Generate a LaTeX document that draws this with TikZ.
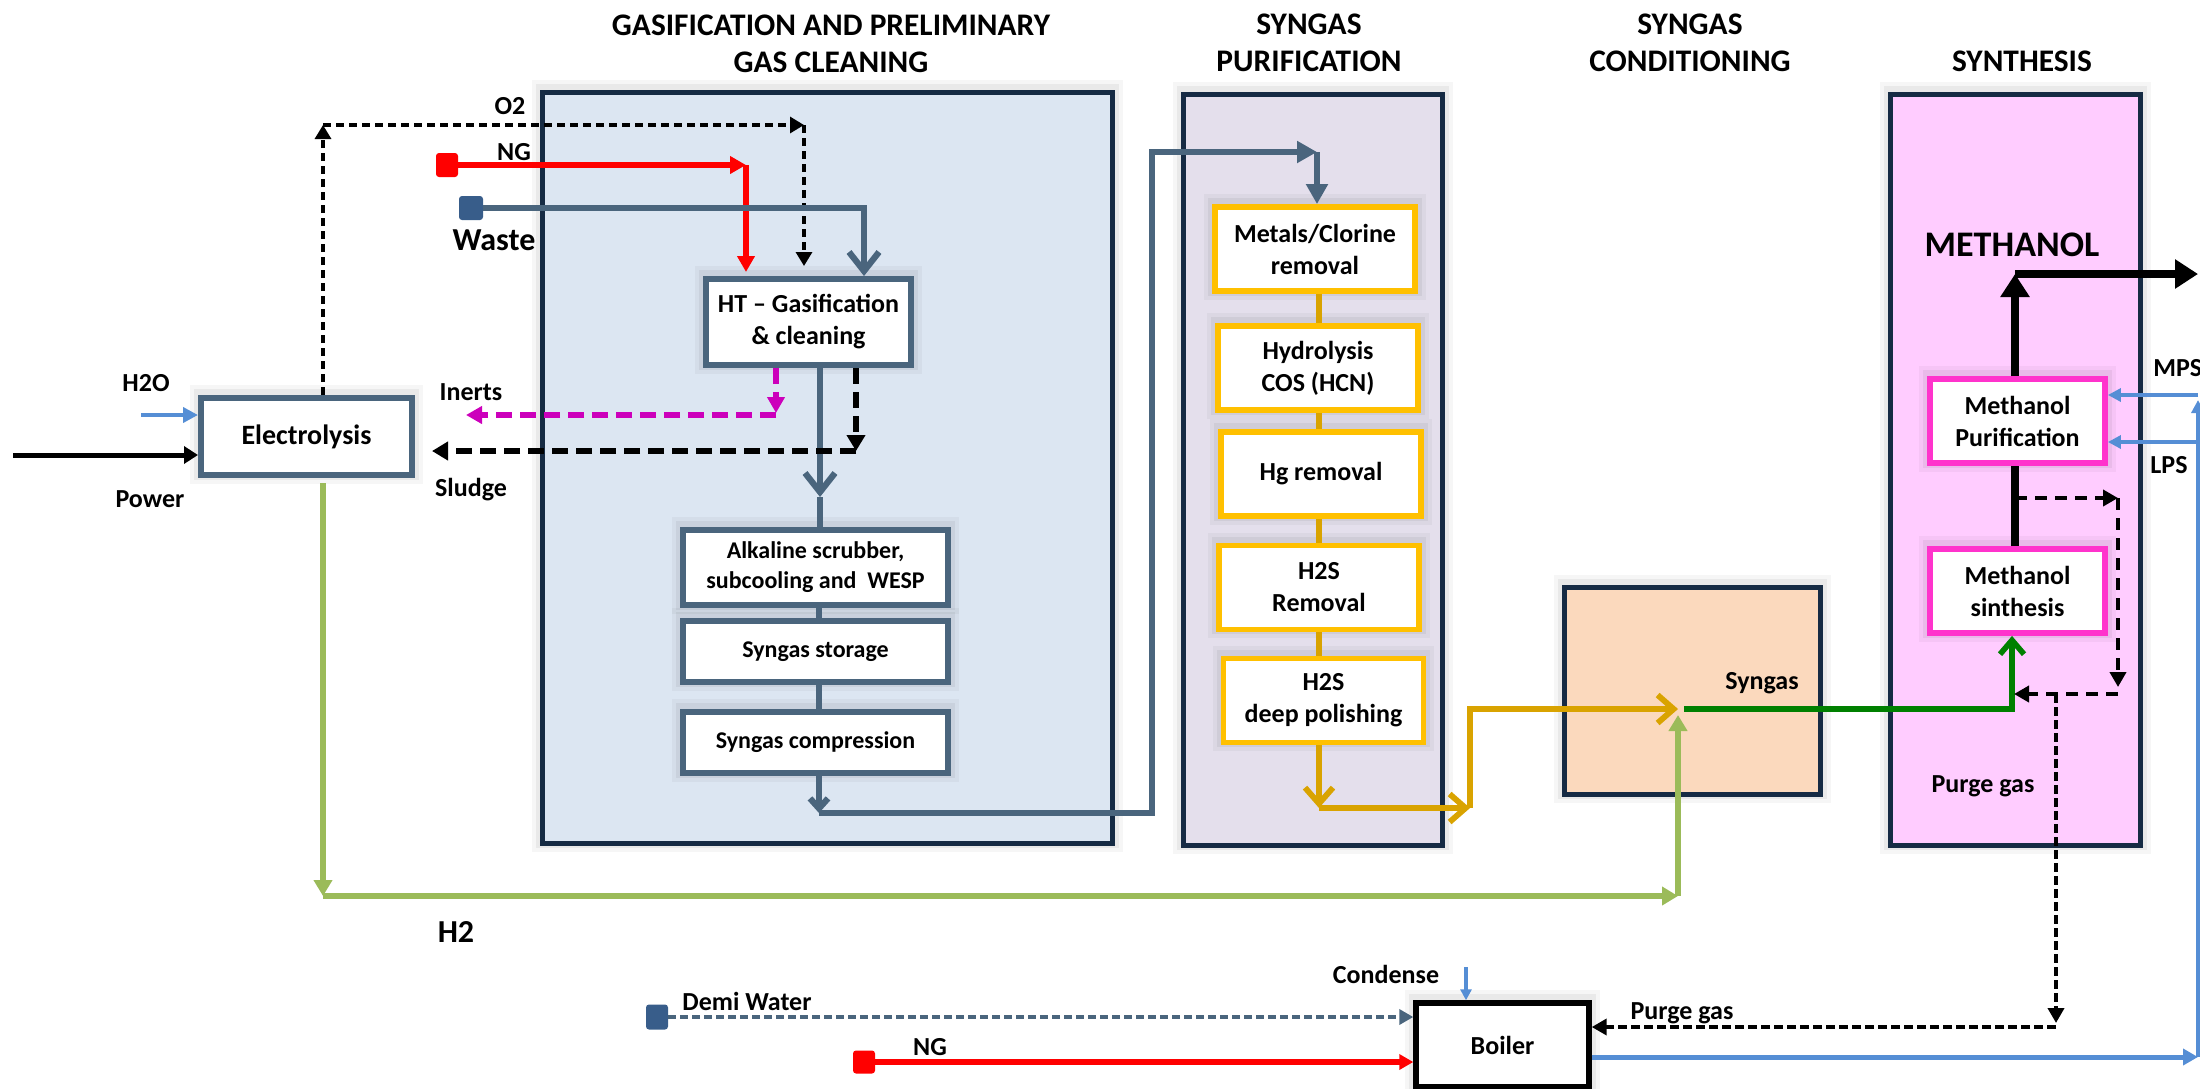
\documentclass[tikz,border=0pt]{standalone}
\usepackage{fontspec}
\setmainfont{Carlito}
\usetikzlibrary{arrows.meta,fit}
\definecolor{navy}{HTML}{162B44}
\definecolor{gasfill}{HTML}{DCE6F2}
\definecolor{purfill}{HTML}{E4DFEC}
\definecolor{confill}{HTML}{FBD9BD}
\definecolor{synfill}{HTML}{FFCCFF}
\definecolor{gb}{HTML}{4A657D}
\definecolor{yb}{HTML}{FFC000}
\definecolor{yl}{HTML}{D9A300}
\definecolor{pk}{HTML}{FF33CC}
\definecolor{mg}{HTML}{CC00BB}
\definecolor{lg}{HTML}{9BBB59}
\definecolor{dg}{HTML}{008000}
\definecolor{bl}{HTML}{558ED5}
\definecolor{sq}{HTML}{385D8A}
\newcommand{\fTitle}{\fontsize{15.7pt}{18.5pt}\selectfont\bfseries}
\newcommand{\fBox}{\fontsize{13pt}{16pt}\selectfont\bfseries}
\newcommand{\fBoxS}{\fontsize{12pt}{15pt}\selectfont\bfseries}
\newcommand{\fElec}{\fontsize{14pt}{16pt}\selectfont\bfseries}
\newcommand{\fLab}{\fontsize{13pt}{15pt}\selectfont\bfseries}
\newcommand{\fBig}{\fontsize{16pt}{18pt}\selectfont\bfseries}
\newcommand{\fMeth}{\fontsize{18pt}{20pt}\selectfont\bfseries}
\tikzset{
 halo/.style={preaction={draw=black, draw opacity=0.035, line width=#1+8pt, transform canvas={yshift=1pt}},
              preaction={draw=black, draw opacity=0.05, line width=#1+4pt, transform canvas={yshift=1pt}}},
 bigbox/.style={draw=navy, line width=2.5pt, inner sep=0pt, halo=2.5pt},
 gbox/.style={draw=gb, line width=3pt, fill=white, align=center, font=\fBoxS, inner sep=0pt, halo=3pt},
 ybox/.style={draw=yb, line width=2.9pt, fill=white, align=center, font=\fBox, inner sep=0pt, minimum width=100pt, minimum height=42pt, halo=2.9pt},
 pkbox/.style={draw=pk, line width=2.9pt, fill=white, align=center, font=\fBox, inner sep=0pt, minimum width=87.5pt, minimum height=42pt, halo=2.9pt},
 lab/.style={font=\fLab, inner sep=0pt},
 ttl/.style={font=\fTitle, align=center, inner sep=0pt},
 feed/.style={rounded corners=1.5pt, inner sep=0pt},
 gasP/.style={draw=gb, line width=3.1pt},
 gasV/.style={gasP, -{Straight Barb[length=9.5pt,width=15pt]}},
 gasVs/.style={gasP, -{Straight Barb[length=5pt,width=9pt]}},
 gasT/.style={gasP, -{Triangle[length=10pt,width=10.5pt]}},
 redA/.style={draw=red, line width=2.7pt, -{Triangle[length=8pt,width=8.5pt]}},
 o2A/.style={draw=black, line width=1.6pt, dash pattern=on 4pt off 2.5pt, -{Triangle[length=7pt,width=8pt]}},
 mgA/.style={draw=mg, line width=2.8pt, dash pattern=on 8pt off 4pt, -{Triangle[length=8pt,width=8.5pt]}},
 slA/.style={draw=black, line width=2.9pt, dash pattern=on 8pt off 4pt, -{Triangle[length=8pt,width=9pt]}},
 lgA/.style={draw=lg, line width=2.7pt, -{Triangle[length=8pt,width=9pt]}},
 ylP/.style={draw=yl, line width=2.9pt},
 ylV/.style={ylP, -{Straight Barb[length=8pt,width=14pt]}},
 dgV/.style={draw=dg, line width=2.8pt, -{Straight Barb[length=7pt,width=12pt]}},
 bkP/.style={draw=black, line width=4.4pt},
 bkA/.style={bkP, -{Triangle[length=11.5pt,width=14pt]}},
 rcA/.style={draw=black, line width=2.4pt, dash pattern=on 6pt off 4pt, -{Triangle[length=7.5pt,width=8pt]}},
 pgA/.style={draw=black, line width=2pt, dash pattern=on 4.5pt off 2pt, -{Triangle[length=7.5pt,width=8pt]}},
 blA/.style={draw=bl, line width=2.3pt, -{Triangle[length=6.5pt,width=6.5pt]}},
 dmA/.style={draw=gb, line width=1.8pt, dash pattern=on 4pt off 2pt, -{Triangle[length=7pt,width=7.5pt]}},
 pwA/.style={draw=black, line width=2.5pt, -{Triangle[length=7pt,width=8.5pt]}}
}
\begin{document}
\begin{tikzpicture}[x=0.5pt,y=-0.5pt]
\useasboundingbox (0,0) rectangle (2200,1088);

% titles
\node[ttl] (t1) at (831,44) {GASIFICATION AND PRELIMINARY\\GAS CLEANING};
\node[ttl] (t2) at (1309,43) {SYNGAS\\PURIFICATION};
\node[ttl] (t3) at (1690,43) {SYNGAS\\CONDITIONING};
\node[ttl] (t4) at (2022,61) {SYNTHESIS};

% section boxes
\node[bigbox, fill=gasfill, fit={(542,92)(1112,843)}] (gas) {};
\node[bigbox, fill=purfill, fit={(1183,94)(1442,845)}] (pur) {};
\node[bigbox, fill=confill, fit={(1564,587)(1820,794)}] (con) {};
\node[bigbox, fill=synfill, fit={(1890,94)(2140,845)}] (syn) {};

% process boxes
\node[gbox, font=\fElec, minimum width=105.5pt, minimum height=38.5pt] (elec) at (306.5,436.5) {Electrolysis};
\node[gbox, font=\fBox, minimum width=102.5pt, minimum height=43pt] (ht) at (808.5,322) {HT -- Gasification\\\& cleaning};
\node[gbox, minimum width=132.5pt, minimum height=37.5pt] (alk) at (815.5,567.5) {Alkaline scrubber,\\subcooling and\ \ WESP};
\node[gbox, minimum width=132.5pt, minimum height=30.5pt] (sto) at (815.5,651.5) {Syngas storage};
\node[gbox, minimum width=132.5pt, minimum height=30.5pt] (comp) at (815.5,742.5) {Syngas compression};

\node[ybox] (met) at (1315,249) {Metals/Clorine\\removal};
\node[ybox] (hyd) at (1318,368) {Hydrolysis\\COS (HCN)};
\node[ybox] (hg) at (1321,474) {Hg removal};
\node[ybox] (hs) at (1319,587.5) {H2S\\Removal};
\node[ybox] (dp) at (1323.5,700.5) {H2S\\deep polishing};

\node[pkbox] (mpur) at (2017.5,421) {Methanol\\Purification};
\node[pkbox] (msyn) at (2017.5,591) {Methanol\\sinthesis};

\node[draw=black, line width=2.7pt, fill=white, minimum width=86.5pt, minimum height=42pt, inner sep=0pt, font=\fBox, halo=2.7pt] (boiler) at (1502.5,1045) {Boiler};

% feed squares
\node[feed, fill=red, minimum width=11pt, minimum height=12pt] (ng1) at (447,165) {};
\node[feed, fill=sq, minimum width=12pt, minimum height=12pt] (waste) at (471,208) {};
\node[feed, fill=sq, minimum width=11pt, minimum height=12.5pt] (demi) at (657,1017) {};
\node[feed, fill=red, minimum width=11pt, minimum height=11.5pt] (ng2) at (864,1062) {};

% labels
\node[lab] (lo2) at (510,106) {O2};
\node[lab] (lng1) at (514,152) {NG};
\node[lab, font=\fBig] (lwaste) at (494,240) {Waste};
\node[lab] (lh2o) at (146,383) {H2O};
\node[lab] (lpow) at (150,499) {Power};
\node[lab] (lin) at (471,392) {Inerts};
\node[lab] (lsl) at (471,490) {Sludge};
\node[lab, font=\fBig] (lh2) at (456,932) {H2};
\node[lab] (ldemi) at (747,1001) {Demi Water};
\node[lab] (lng2) at (930,1047) {NG};
\node[lab] (lcond) at (1386,974) {Condense};
\node[lab] (lpg1) at (1682,1013) {Purge gas};
\node[lab] (lsyn) at (1762,683) {Syngas};
\node[lab] (lpg2) at (1983,786) {Purge gas};
\node[lab, font=\fMeth] (lmeth) at (2012,245) {METHANOL};
\node[lab, anchor=west] (lmps) at (2153,368) {MPS};
\node[lab] (llps) at (2169,465) {LPS};

% coordinates
\coordinate (pwS) at (13,455);
\coordinate (h2oS) at (141,415);
\coordinate (o2a) at (323,125);
\coordinate (o2b) at (804,125);
\coordinate (ngc) at (746,165);
\coordinate (wc) at (864,208);
\coordinate (gx1) at (820,497);
\coordinate (gx) at (819,0);
\coordinate (c1) at (819,813);
\coordinate (c2) at (1152,813);
\coordinate (c3) at (1152,152);
\coordinate (c4) at (1317,152);
\coordinate (m1) at (776,413);
\coordinate (m1b) at (776,415);
\coordinate (m2) at (466,415);
\coordinate (s1) at (856,451);
\coordinate (h2a) at (323,896);
\coordinate (h2b) at (1678,896);
\coordinate (junc) at (1678,709);
\coordinate (yx) at (1319,0);
\coordinate (y1) at (1319,808);
\coordinate (y2) at (1470,808);
\coordinate (y3) at (1470,709);
\coordinate (g2) at (2012,709);
\coordinate (k1) at (2015,274);
\coordinate (kout) at (2198,274);
\coordinate (r1) at (2015,498);
\coordinate (r2) at (2118,498);
\coordinate (r3) at (2118,694);
\coordinate (p1) at (2056,694);
\coordinate (p2) at (2056,1027);
\coordinate (b1) at (2198,1057);
\coordinate (b2) at (2198,395);
\coordinate (b3) at (2198,442);
\coordinate (cd) at (1466,967);

% electrolysis inputs/outputs
\draw[pwA] (pwS) -- (pwS -| elec.west);
\draw[blA, line width=2.4pt, -{Triangle[length=7.5pt,width=7.5pt]}] (h2oS) -- (h2oS -| elec.west);
\draw[o2A] (elec.north -| o2a) -- (o2a);
\draw[o2A] (o2a) -- (o2b);
\draw[o2A, shorten >=5pt] (o2b) -- (ht.north -| o2b);

% feeds to gasifier
\draw[redA] (ng1.east) -- (ngc);
\draw[redA, shorten >=2pt] (ngc) -- (ht.north -| ngc);
\draw[gasV] (waste.east) -- (wc) -- (ht.north -| wc);

% gasification line
\draw[gasV] (ht.south -| gx1) -- (gx1);
\draw[gasP] (gx1) -- (alk.north -| gx1);
\draw[gasP] (alk.south -| gx) -- (sto.north -| gx);
\draw[gasP] (sto.south -| gx) -- (comp.north -| gx);
\draw[gasVs] (comp.south -| c1) -- (c1);
\draw[gasT] (c1) -- (c2) -- (c3) -- (c4);
\draw[gasT] (c4) -- (met.north -| c4);

% inerts and sludge
\draw[mgA] (ht.south -| m1) -- (m1);
\draw[mgA] (m1b) -- (m2);
\draw[slA] (ht.south -| s1) -- (s1);
\draw[slA, shorten >=8.5pt] (s1) -- (s1 -| elec.east);

% hydrogen
\draw[lgA, shorten <=2.5pt] (elec.south -| h2a) -- (h2a);
\draw[lgA] (h2a) -- (h2b);
\draw[lgA, shorten >=3pt] (h2b) -- (junc);

% purification chain
\draw[ylP] (met.south -| yx) -- (hyd.north -| yx);
\draw[ylP] (hyd.south -| yx) -- (hg.north -| yx);
\draw[ylP] (hg.south -| yx) -- (hs.north -| yx);
\draw[ylP] (hs.south -| yx) -- (dp.north -| yx);
\draw[ylV] (dp.south -| y1) -- (y1);
\draw[ylV] (y1) -- (y2);
\draw[ylV] (y2) -- (y3) -- (junc);

% syngas to synthesis
\draw[dgV, shorten <=3pt] (junc) -- (g2) -- (msyn.south -| g2);

% methanol
\draw[bkP] (msyn.north -| k1) -- (mpur.south -| k1);
\draw[bkA] (mpur.north -| k1) -- (k1);
\draw[bkA] (k1) -- (kout);

% recycle and purge
\draw[rcA] (r1) -- (r2);
\draw[rcA, shorten >=3.5pt] (r2) -- (r3);
\draw[rcA, shorten >=1pt] (r3) -- (r3 -| g2);
\draw[pgA, shorten >=2pt] (p1) -- (p2);
\draw[pgA] (p2) -- (p2 -| boiler.east);

% steam
\draw[blA, line width=2.5pt, -{Triangle[length=7.5pt,width=8pt]}] (boiler.east |- b1) -- (b1);
\draw[blA, shorten >=2.5pt] (b1) -- (b2);
\draw[blA] (b2) -- (b2 -| mpur.east);
\draw[blA] (b3) -- (b3 -| mpur.east);

% boiler inputs
\draw[blA, line width=1.6pt, -{Triangle[length=5.5pt,width=5.5pt]}] (cd) -- (boiler.north -| cd);
\draw[dmA] (demi.east) -- (demi.east -| boiler.west);
\draw[redA, -{Triangle[length=7pt,width=7.5pt]}] (ng2.east) -- (ng2.east -| boiler.west);
\end{tikzpicture}
\end{document}
